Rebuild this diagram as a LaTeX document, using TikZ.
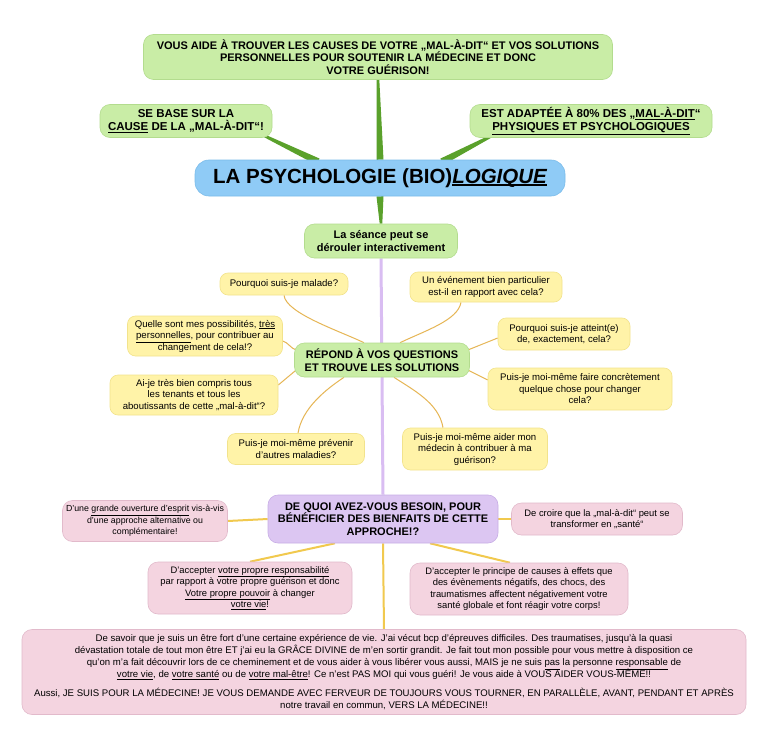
\documentclass[tikz,border=0pt]{standalone}
\usepackage{fontspec}
\setmainfont{Liberation Sans}
\usetikzlibrary{calc,backgrounds}

\definecolor{leaffill}{HTML}{C9EDA6}
\definecolor{leafedge}{HTML}{B3DC8E}
\definecolor{skyfill}{HTML}{8FCBF6}
\definecolor{skyedge}{HTML}{7BBCEA}
\definecolor{lemonfill}{HTML}{FFF3A8}
\definecolor{lemonedge}{HTML}{F2E38C}
\definecolor{lilacfill}{HTML}{DCC6F2}
\definecolor{lilacedge}{HTML}{C8AEE6}
\definecolor{rosefill}{HTML}{F4D4E0}
\definecolor{roseedge}{HTML}{E2BACB}
\definecolor{branchgreen}{HTML}{5AA12B}
\definecolor{twigorange}{HTML}{E6B655}
\definecolor{stemyellow}{HTML}{F1C94E}
\definecolor{stemlilac}{HTML}{D9BDF2}

\newcommand{\branch}[2]{\fill[branchgreen] ($(#1)!3.5pt!90:(#2)$) -- ($(#2)!1.3pt!-90:(#1)$) -- ($(#2)!1.3pt!90:(#1)$) -- ($(#1)!3.5pt!-90:(#2)$) -- cycle;}
\newcommand{\bigul}[1]{\setbox0\hbox{#1}\leavevmode\rlap{\rule[-2.5pt]{\wd0}{1.4pt}}\box0}
\newcommand{\tightlines}{\setlength{\lineskiplimit}{-4pt}}

\tikzset{
  box/.style={rounded corners=10pt, align=center, inner sep=2pt, line width=0.6pt},
  leafbox/.style={box, fill=leaffill, draw=leafedge, font=\bfseries\fontsize{11}{12.5}\selectfont},
  sidebox/.style={leafbox, font=\bfseries\fontsize{11.5}{13}\selectfont},
  titlebox/.style={box, rounded corners=14pt, fill=skyfill, draw=skyedge, font=\bfseries\fontsize{20.5}{24}\selectfont},
  askbox/.style={box, rounded corners=8pt, fill=lemonfill, draw=lemonedge, font=\fontsize{9.6}{11.5}\selectfont\tightlines},
  needbox/.style={box, fill=lilacfill, draw=lilacedge, font=\bfseries\fontsize{11}{12.5}\selectfont},
  rosebox/.style={box, fill=rosefill, draw=roseedge, font=\fontsize{9.4}{11.5}\selectfont\tightlines},
  twig/.style={twigorange, line width=1pt},
  stem/.style={stemyellow, line width=2pt},
}

\begin{document}
\begin{tikzpicture}[x=1pt,y=-1pt]
\useasboundingbox (0,0) rectangle (768,749);

% centre et branches principales
\node[leafbox, minimum width=469pt, minimum height=45pt] (aide) at (378,57) {VOUS AIDE À TROUVER LES CAUSES DE VOTRE „MAL-À-DIT“ ET VOS SOLUTIONS\\PERSONNELLES POUR SOUTENIR LA MÉDECINE ET DONC\\VOTRE GUÉRISON!};
\node[sidebox, minimum width=172pt, minimum height=33pt] (base) at (186,121) {SE BASE SUR LA\\\underline{CAUSE} DE LA „MAL-À-DIT“!};
\node[sidebox, minimum width=242pt, minimum height=33pt] (adaptee) at (591,121) {EST ADAPTÉE À 80\% DES „\underline{MAL-À-DIT}“\\\underline{PHYSIQUES ET PSYCHOLOGIQUES}};
\node[titlebox, minimum width=370pt, minimum height=36pt] (psy) at (380,178) {LA PSYCHOLOGIE (BIO)\bigul{\itshape LOGIQUE}};
\node[leafbox, minimum width=153pt, minimum height=34pt] (seance) at (381,241) {La séance peut se\\dérouler interactivement};

% questions
\node[leafbox, minimum width=175pt, minimum height=34pt] (repond) at (382,360) {RÉPOND À VOS QUESTIONS\\ET TROUVE LES SOLUTIONS};
\node[askbox, minimum width=128pt, minimum height=22pt] (malade) at (284,284) {Pourquoi suis-je malade?};
\node[askbox, minimum width=152pt, minimum height=30pt] (evenement) at (486,287) {Un événement bien particulier\\est-il en rapport avec cela?};
\node[askbox, minimum width=155pt, minimum height=40pt] (possib) at (205,336) {Quelle sont mes possibilités, \underline{très}\\\underline{personnelles}, pour contribuer au\\changement de cela!?};
\node[askbox, minimum width=132pt, minimum height=32pt] (atteint) at (564,334) {Pourquoi suis-je atteint(e)\\de, exactement, cela?};
\node[askbox, minimum width=168pt, minimum height=40pt] (compris) at (194,395) {Ai-je très bien compris tous\\les tenants et tous les\\aboutissants de cette „mal-à-dit“?};
\node[askbox, minimum width=184pt, minimum height=42pt] (concret) at (580,389) {Puis-je moi-même faire concrètement\\quelque chose pour changer\\cela?};
\node[askbox, minimum width=137pt, minimum height=31pt] (prevenir) at (296,449) {Puis-je moi-même prévenir\\d'autres maladies?};
\node[askbox, minimum width=145pt, minimum height=42pt] (medecin) at (475,449) {Puis-je moi-même aider mon\\médecin à contribuer à ma\\guérison?};

% besoins
\node[needbox, minimum width=230pt, minimum height=48pt] (besoin) at (383,519) {DE QUOI AVEZ-VOUS BESOIN, POUR\\BÉNÉFICIER DES BIENFAITS DE CETTE\\APPROCHE!?};
\node[rosebox, font=\fontsize{8.8}{11.5}\selectfont\tightlines, minimum width=165pt, minimum height=41pt] (ouverture) at (145,521) {D'une \underline{grande ouverture d'esprit} vis-à-vis\\d'une approche alternative ou\\complémentaire!};
\node[rosebox, minimum width=171pt, minimum height=32pt] (croire) at (597,519) {De croire que la „mal-à-dit“ peut se\\transformer en „santé“};
\node[rosebox, minimum width=204pt, minimum height=52pt] (responsab) at (250,588) {D'accepter \underline{votre propre responsabilité}\\par rapport à votre propre guérison et donc\\\underline{Votre propre pouvoir} à changer\\\underline{votre vie}!};
\node[rosebox, minimum width=218pt, minimum height=52pt] (causes) at (519,589) {D'accepter le principe de causes à effets que\\des évènements négatifs, des chocs, des\\traumatismes affectent négativement votre\\santé globale et font réagir votre corps!};
\node[rosebox, font=\fontsize{9.6}{12}\selectfont\tightlines, minimum width=724pt, minimum height=85pt] (temoin) at (384,672) {De savoir que je suis un être fort d'une certaine expérience de vie. J'ai vécut bcp d'épreuves difficiles. Des traumatises, jusqu'à la quasi\\dévastation totale de tout mon être ET j'ai eu la GRÂCE DIVINE de m'en sortir grandit. Je fait tout mon possible pour vous mettre à disposition ce\\qu'on m'a fait découvrir lors de ce cheminement et de vous aider à vous libérer vous aussi, MAIS je ne suis \underline{pas} la personne \underline{responsable} de\\\underline{votre vie}, de \underline{votre santé} ou de \underline{votre mal-être}! Ce n'est PAS MOI qui vous guéri! Je vous aide à VOUS AIDER VOUS-MÊME!!\\[7pt]Aussi, JE SUIS POUR LA MÉDECINE! JE VOUS DEMANDE AVEC FERVEUR DE TOUJOURS VOUS TOURNER, EN PARALLÈLE, AVANT, PENDANT ET APRÈS\\notre travail en commun, VERS LA MÉDECINE!!};

\begin{pgfonlayer}{background}
  \fill[white] (0,0) rectangle (768,749);
  \coordinate (psyL) at ($(psy.north)+(-62,2)$);
  \coordinate (psyR) at ($(psy.north)+(62,2)$);
  \coordinate (baseR) at ($(base.south east)+(-10,-3)$);
  \coordinate (adapL) at ($(adaptee.south west)+(24,-3)$);
  \branch{psy.north}{aide.south}
  \branch{psyL}{baseR}
  \branch{psyR}{adapL}
  \branch{psy.south}{seance.north}
  \draw[stemlilac, line width=3pt] (seance.south) -- (besoin.north);
  % fils des questions
  \draw[twig] (malade.south) .. controls +(2,18) and +(-25,-12) .. ($(repond.north)+(-18,0)$);
  \draw[twig] ($(evenement.south)+(-25,0)$) .. controls +(-3,18) and +(25,-12) .. ($(repond.north)+(18,0)$);
  \draw[twig] ($(possib.east)+(0,5)$) .. controls +(6,2) and +(-6,-2) .. ($(repond.west)+(2,-10)$);
  \draw[twig] ($(atteint.west)+(0,4)$) -- ($(repond.east)+(-2,-10)$);
  \draw[twig] ($(compris.east)+(0,-10)$) -- ($(repond.west)+(2,10)$);
  \draw[twig] ($(concret.west)+(0,-9)$) -- ($(repond.east)+(-2,10)$);
  \draw[twig] ($(prevenir.north)+(2,0)$) .. controls +(4,-25) and +(-18,12) .. ($(repond.south)+(-38,0)$);
  \draw[twig] ($(medecin.north)+(-32,0)$) .. controls +(-4,-25) and +(18,12) .. ($(repond.south)+(12,0)$);
  % tiges des besoins
  \draw[stem] (ouverture.east) -- (besoin.west);
  \draw[stem] (besoin.east) -- (croire.west);
  \draw[stem] ($(besoin.south)+(-48,0)$) -- (responsab.north);
  \draw[stem] ($(besoin.south)+(47,0)$) -- ($(causes.north)+(-9,0)$);
  \draw[stem] (besoin.south) -- (temoin.north);
\end{pgfonlayer}
\end{tikzpicture}
\end{document}
